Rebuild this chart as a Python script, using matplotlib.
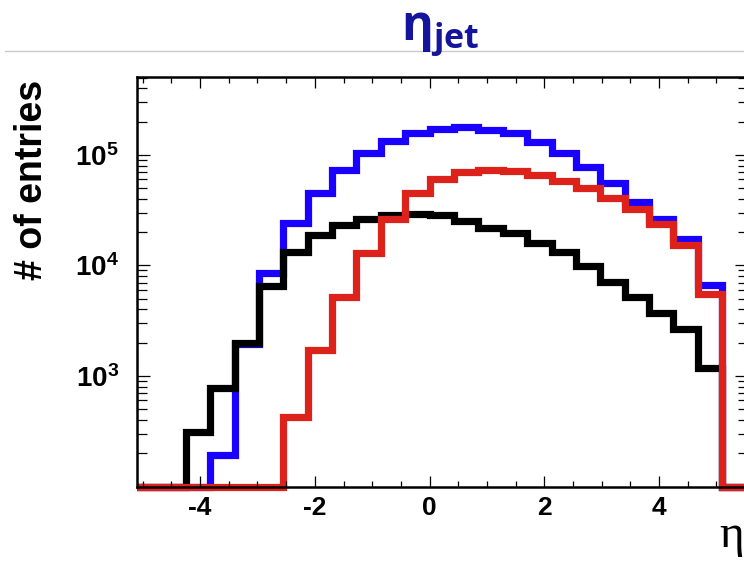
import numpy as np
import matplotlib
matplotlib.use("Agg")
import matplotlib.pyplot as plt
from matplotlib.lines import Line2D
from matplotlib.ticker import LogLocator, FixedLocator, MultipleLocator, FuncFormatter

# 24 bins from -5.1 to 5.1 (zeros are empty bins)
bin_edges = np.linspace(-5.1, 5.1, 25)
blue_counts = [0, 0, 0, 193, 1950, 8500, 24400, 45600, 73100, 105000, 134000, 157000,
               171000, 178000, 168000, 157000, 132000, 104000, 78400, 55400, 37800, 26200, 17300, 6670]
black_counts = [0, 0, 313, 773, 2000, 6500, 13100, 18900, 23300, 26200, 28700, 29300,
                28400, 25300, 22000, 19800, 16100, 13100, 9950, 7140, 5220, 3740, 2650, 1170]
red_counts = [0, 0, 0, 0, 0, 0, 423, 1720, 5150, 12900, 26200, 45000,
              60300, 70700, 73100, 72100, 65900, 58600, 50600, 40500, 32200, 23800, 15300, 5560]

x_ticks = [-4, -2, 0, 2, 4]
y_ticks = [1e3, 1e4, 1e5]
title = r'$\mathsf{\eta_{jet}}$'
ylabel = "# of entries"
xlabel = "η"

xmin, xmax = -5.1, 5.55
ymin, ymax = 100, 5.12e5

plt.rcParams['mathtext.fontset'] = 'custom'
plt.rcParams['mathtext.rm'] = 'Liberation Sans:bold'
plt.rcParams['mathtext.bf'] = 'Liberation Sans:bold'
plt.rcParams['mathtext.it'] = 'Liberation Sans:bold'
plt.rcParams['mathtext.sf'] = 'Open Sans:bold'

fig = plt.figure(figsize=(7.44, 5.61), dpi=100)
ax = fig.add_axes([137 / 744, 74.5 / 561, 611 / 744, 410 / 561])

# zero bins are drawn along the bottom edge, like ROOT does on log scale
edges = np.append(bin_edges, xmax)
for counts, col in [(blue_counts, '#1a00ff'), (black_counts, 'black'), (red_counts, '#dd221c')]:
    vals = np.append(np.array(counts, dtype=float), 0.0)
    vals = np.where(vals > 0, vals, ymin)
    ax.stairs(vals, edges, baseline=None, fill=False, edgecolor=col,
              linewidth=5.2, joinstyle='miter', clip_on=False)

ax.set_yscale('log')
ax.set_xlim(xmin, xmax)
ax.set_ylim(ymin, ymax)

ax.xaxis.set_major_locator(FixedLocator(x_ticks))
ax.xaxis.set_minor_locator(MultipleLocator(0.5))
ax.yaxis.set_major_locator(FixedLocator(y_ticks))
ax.yaxis.set_minor_locator(LogLocator(base=10, subs=np.arange(2, 10)))
ax.yaxis.set_major_formatter(FuncFormatter(lambda v, p: r'$\mathbf{10^{%d}}$' % round(np.log10(v))))
ax.xaxis.set_major_formatter(FuncFormatter(lambda v, p: '%d' % v))

ax.tick_params(axis='both', which='both', direction='in', top=True, right=True, width=0.9)
ax.tick_params(axis='x', which='major', length=8, pad=7)
ax.tick_params(axis='x', which='minor', length=4.5)
ax.tick_params(axis='y', which='major', length=9.5, pad=13)
ax.tick_params(axis='y', which='minor', length=7.5)
for lab in ax.get_xticklabels():
    lab.set_fontfamily('Liberation Sans')
    lab.set_fontweight('bold')
    lab.set_fontsize(19)
for lab in ax.get_yticklabels():
    lab.set_fontsize(20)
for sp in ax.spines.values():
    sp.set_linewidth(1.8)

fig.text(32 / 744, 1 - 180 / 561, ylabel, rotation=90, ha='center', va='center',
         fontsize=27, fontweight='bold', family='Liberation Sans')
fig.text(744 / 744, 1 - 547 / 561, xlabel, ha='right', va='baseline',
         fontsize=34, family='Liberation Serif')

# title with the thin grey rule behind it
fig.add_artist(Line2D([5 / 744, 1.0], [1 - 51 / 561, 1 - 51 / 561], color='#c8c8c8', linewidth=1))
fig.text(401 / 744, 1 - 40 / 561, title, ha='left', va='baseline',
         fontsize=35, color='#14149c')

fig.savefig('out.png', dpi=100)
